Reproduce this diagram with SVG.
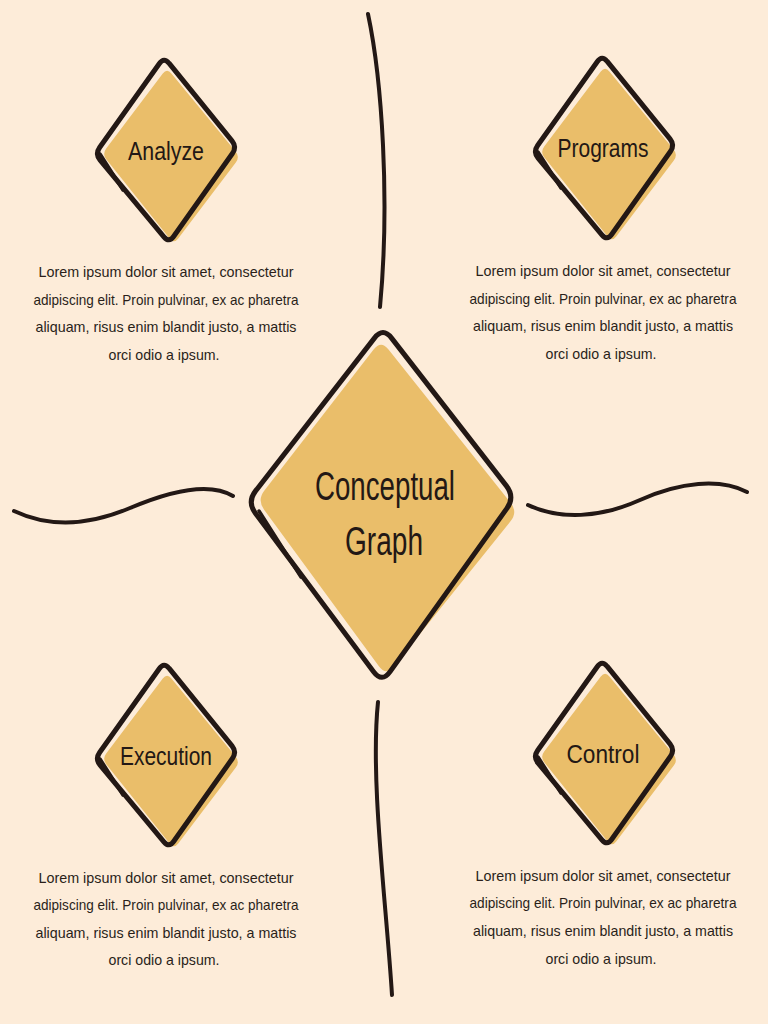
<svg xmlns="http://www.w3.org/2000/svg" xmlns:xlink="http://www.w3.org/1999/xlink" width="768" height="1024" viewBox="0 0 768 1024">
  <style>
    .fill { fill: #EABE6A; stroke: none; }
    .outline { fill: none; stroke: #231815; stroke-width: 5; stroke-linejoin: round; }
    .accent { fill: none; stroke: #231815; stroke-width: 3.5; stroke-linecap: round; }
    .conn { fill: none; stroke: #231815; stroke-width: 4; stroke-linecap: round; }
    .label { font-family: "Liberation Sans", Arial, sans-serif; font-size: 26px; fill: #231815; text-anchor: middle; }
    .title { font-family: "Liberation Sans", Arial, sans-serif; font-size: 40px; fill: #231815; text-anchor: middle; }
    .para { font-family: "Liberation Sans", Arial, sans-serif; font-size: 14.5px; fill: #2a1f1a; text-anchor: middle; }
  </style>
  <defs>
    <g id="smallDiamond">
      <path class="fill" d="M171.4,73.4 L235.6,151.6 Q240,157 235.8,162.6 L178.2,238.4 Q174,244 169.6,238.5 L106.4,159.5 Q102,154 106.2,148.4 L162.8,73.6 Q167,68 171.4,73.4 Z"/>
      <path class="outline" d="M169,63.2 L232,140.8 Q237,147 232.4,153.5 L173.6,236.5 Q169,243 163.9,236.8 L100.1,160.2 Q95,154 99.6,147.5 L159.4,63.5 Q164,57 169,63.2 Z"/>
      <line class="accent" x1="100" y1="154" x2="123" y2="190"/>
    </g>
  </defs>
  <rect x="0" y="0" width="768" height="1024" fill="#FDECD9"/>

  <g id="connectors">
    <path class="conn" d="M368,14 C382,80 390,200 380,307"/>
    <path class="conn" d="M378,702 C370,780 386,900 392,995"/>
    <path class="conn" d="M14,511 C50,528 90,525 130,508 S210,482 233,496"/>
    <path class="conn" d="M528,505 C560,520 600,518 640,500 S720,478 747,492"/>
  </g>

  <g id="node-center">
    <path class="fill" d="M388.5,349.4 L510.5,502.6 Q518,512 510.5,521.3 L393.5,666.7 Q386,676 378.9,666.3 L264.1,509.7 Q257,500 264.4,490.5 L373.6,349.5 Q381,340 388.5,349.4 Z"/>
    <path class="outline" d="M391.6,338.1 L506.4,485.9 Q515,497 506.9,508.4 L390.1,671.6 Q382,683 373.6,671.8 L255.4,513.2 Q247,502 255.6,490.9 L374.4,338.1 Q383,327 391.6,338.1 Z"/>
    <line class="accent" x1="259" y1="511" x2="301" y2="577"/>
    <text class="title" x="385" y="500" textLength="140" lengthAdjust="spacingAndGlyphs">Conceptual</text>
    <text class="title" x="384" y="555" textLength="78" lengthAdjust="spacingAndGlyphs">Graph</text>
  </g>

  <g id="node-analyze">
    <use xlink:href="#smallDiamond"/>
    <text class="label" x="166" y="160" textLength="76" lengthAdjust="spacingAndGlyphs">Analyze</text>
    <text class="para" x="166" y="277" textLength="255" lengthAdjust="spacingAndGlyphs">Lorem ipsum dolor sit amet, consectetur</text>
    <text class="para" x="166" y="305" textLength="265" lengthAdjust="spacingAndGlyphs">adipiscing elit. Proin pulvinar, ex ac pharetra</text>
    <text class="para" x="166" y="332" textLength="261" lengthAdjust="spacingAndGlyphs">aliquam, risus enim blandit justo, a mattis</text>
    <text class="para" x="164" y="360" textLength="111" lengthAdjust="spacingAndGlyphs">orci odio a ipsum.</text>
  </g>

  <g id="node-programs">
    <use xlink:href="#smallDiamond" transform="translate(438,-2)"/>
    <text class="label" x="603" y="157" textLength="91" lengthAdjust="spacingAndGlyphs">Programs</text>
    <text class="para" x="603" y="276" textLength="255" lengthAdjust="spacingAndGlyphs">Lorem ipsum dolor sit amet, consectetur</text>
    <text class="para" x="603" y="304" textLength="267" lengthAdjust="spacingAndGlyphs">adipiscing elit. Proin pulvinar, ex ac pharetra</text>
    <text class="para" x="603" y="331" textLength="260" lengthAdjust="spacingAndGlyphs">aliquam, risus enim blandit justo, a mattis</text>
    <text class="para" x="601" y="359" textLength="111" lengthAdjust="spacingAndGlyphs">orci odio a ipsum.</text>
  </g>

  <g id="node-execution">
    <use xlink:href="#smallDiamond" transform="translate(0,605)"/>
    <text class="label" x="166" y="765" textLength="92" lengthAdjust="spacingAndGlyphs">Execution</text>
    <text class="para" x="166" y="883" textLength="255" lengthAdjust="spacingAndGlyphs">Lorem ipsum dolor sit amet, consectetur</text>
    <text class="para" x="166" y="910" textLength="265" lengthAdjust="spacingAndGlyphs">adipiscing elit. Proin pulvinar, ex ac pharetra</text>
    <text class="para" x="166" y="938" textLength="261" lengthAdjust="spacingAndGlyphs">aliquam, risus enim blandit justo, a mattis</text>
    <text class="para" x="164" y="965" textLength="111" lengthAdjust="spacingAndGlyphs">orci odio a ipsum.</text>
  </g>

  <g id="node-control">
    <use xlink:href="#smallDiamond" transform="translate(438,603)"/>
    <text class="label" x="603" y="763" textLength="73" lengthAdjust="spacingAndGlyphs">Control</text>
    <text class="para" x="603" y="881" textLength="255" lengthAdjust="spacingAndGlyphs">Lorem ipsum dolor sit amet, consectetur</text>
    <text class="para" x="603" y="908" textLength="267" lengthAdjust="spacingAndGlyphs">adipiscing elit. Proin pulvinar, ex ac pharetra</text>
    <text class="para" x="603" y="936" textLength="260" lengthAdjust="spacingAndGlyphs">aliquam, risus enim blandit justo, a mattis</text>
    <text class="para" x="601" y="964" textLength="111" lengthAdjust="spacingAndGlyphs">orci odio a ipsum.</text>
  </g>
</svg>
